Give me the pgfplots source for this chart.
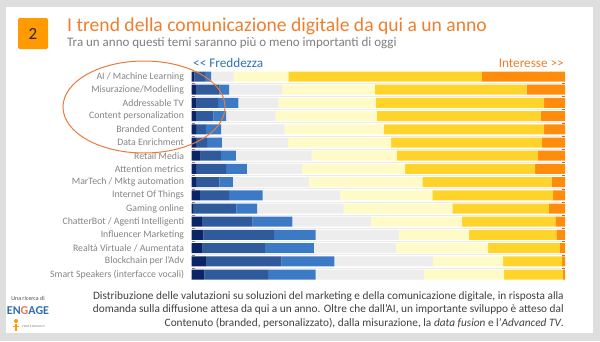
\documentclass[border=0pt]{standalone}
\usepackage{fontspec}
\setmainfont{Carlito}
\usepackage{pgfplots}
\usepackage{pgfplotstable}
\pgfplotsset{compat=1.18}
\definecolor{c1}{HTML}{0B2466}
\definecolor{c2}{HTML}{2F5A9C}
\definecolor{c3}{HTML}{3D7AC6}
\definecolor{c4}{HTML}{EDEDED}
\definecolor{c5}{HTML}{FFFBC8}
\definecolor{c6}{HTML}{FFD42A}
\definecolor{c7}{HTML}{FF8C0A}
\definecolor{bordergray}{HTML}{DEDEDE}
\definecolor{titleor}{HTML}{EE7F2D}
\definecolor{boxor}{HTML}{FF9A00}
\definecolor{subgray}{HTML}{7F7F7F}
\definecolor{labgray}{HTML}{858585}
\definecolor{fredblue}{HTML}{2E75B6}
\definecolor{capgray}{HTML}{404040}
\definecolor{ellor}{HTML}{EB7A3C}
\definecolor{logoblue}{HTML}{2E6DB4}

\pgfplotstableread{
y s1 s2 s3 s4 s5 s6 s7
0 0.7 2.9 1.6 6.0 14.7 51.8 22.3
1 1.3 6.2 2.5 14.2 24.9 40.6 10.3
2 1.3 5.8 5.4 10.7 26.1 45.1 5.6
3 1.1 4.7 3.4 13.3 27.1 43.9 6.5
4 1.2 2.6 4.1 17.0 26.5 43.0 5.6
5 1.2 2.9 4.0 17.8 27.5 40.5 6.1
6 2.4 5.4 4.0 20.3 22.8 37.9 7.2
7 1.2 8.0 5.6 14.7 27.7 34.8 8.0
8 1.2 6.2 3.6 20.4 30.4 34.6 3.6
9 2.2 7.8 9.0 20.7 24.8 32.3 3.2
10 0.4 11.6 5.5 23.2 29.1 25.9 4.3
11 2.7 13.6 10.7 21.0 24.4 25.0 2.6
12 3.1 19.0 11.1 22.3 18.8 23.4 2.3
13 2.9 16.7 13.1 22.0 24.7 19.2 1.4
14 3.8 20.3 14.1 26.4 18.8 15.8 0.8
15 3.4 17.1 12.7 29.0 21.5 15.8 0.5
}\data

\begin{document}
\begin{tikzpicture}
\begin{scope}[x=1pt,y=-1pt]
\fill[bordergray] (0,0) rectangle (600,341);
\useasboundingbox (0,0) rectangle (600,341);
\fill[white] (6,7) rectangle (593,333);
\fill[boxor, rounded corners=2pt] (18,18) rectangle (48,49);
\node[font=\fontsize{17}{20}\selectfont, text=black!85] at (33,33.5) {2};
\node[anchor=base west, inner sep=0pt, text=titleor, font=\fontsize{19.6}{23}\selectfont] at (67,31) {I trend della comunicazione digitale da qui a un anno};
\node[anchor=base west, inner sep=0pt, text=subgray, font=\fontsize{13}{15}\selectfont] at (67,46) {Tra un anno questi temi saranno più o meno importanti di oggi};
\node[anchor=base west, inner sep=0pt, text=fredblue, font=\fontsize{13.2}{15}\selectfont] at (193,67) {{<}{<} Freddezza};
\node[anchor=base east, inner sep=0pt, text=titleor, font=\fontsize{13.2}{15}\selectfont] at (564,67) {Interesse {>}{>}};
\end{scope}

\begin{axis}[
  at={(191.7pt,-69.9pt)}, anchor=north west,
  scale only axis, width=373.3pt, height=211.2pt,
  xbar stacked, bar width=10pt,
  xmin=0, xmax=100, ymin=-0.5, ymax=15.5,
  y dir=reverse, enlargelimits=false,
  axis line style={draw=none},
  xtick=\empty,
  ytick={0,...,15},
  major tick length=0pt,
  minor ytick={0.5,1.5,...,14.5},
  yminorgrids, minor grid style={draw=black!8, line width=0.5pt},
  yticklabels={AI / Machine Learning, Misurazione/Modelling, Addressable TV, Content personalization, Branded Content, Data Enrichment, Retail Media, Attention metrics, MarTech / Mktg automation, Internet Of Things, Gaming online, ChatterBot / Agenti Intelligenti, Influencer Marketing, Realtà Virtuale / Aumentata, Blockchain per l’Adv, Smart Speakers (interfacce vocali)},
  yticklabel style={font=\fontsize{9.8}{12}\selectfont, text=labgray, anchor=east, inner sep=0pt, xshift=-7.5pt},
]
\addplot[fill=c1, draw=none] table[x=s1, y=y] {\data};
\addplot[fill=c2, draw=none] table[x=s2, y=y] {\data};
\addplot[fill=c3, draw=none] table[x=s3, y=y] {\data};
\addplot[fill=c4, draw=none] table[x=s4, y=y] {\data};
\addplot[fill=c5, draw=none] table[x=s5, y=y] {\data};
\addplot[fill=c6, draw=none] table[x=s6, y=y] {\data};
\addplot[fill=c7, draw=none] table[x=s7, y=y] {\data};
\end{axis}

\begin{scope}[x=1pt,y=-1pt]
\draw[ellor, line width=1pt] (144,107) ellipse [x radius=81, y radius=46];
\node[font=\fontsize{6}{7}\selectfont, text=black!70, inner sep=0pt] at (28,298) {Una ricerca di};
\node[font=\fontsize{12}{14}\selectfont\bfseries, text=logoblue, inner sep=0pt] at (28,311) {EN\textcolor{ellor}{G}AGE};
\fill[boxor] (16,321) circle (2pt);
\draw[boxor, line width=1.2pt] (16,324) -- (16,331);
\draw[boxor, line width=0.8pt] (13,326) -- (19,326);
\node[font=\fontsize{3}{4}\selectfont, text=black!50, inner sep=0pt, anchor=west] at (22,327) {PEOPLE RESEARCH};
\node[anchor=north east, align=right, inner sep=0pt, text=capgray, font=\fontsize{11.3}{13.5}\selectfont] at (564,291) {Distribuzione delle valutazioni su soluzioni del marketing e della comunicazione digitale, in risposta alla\\domanda sulla diffusione attesa da qui a un anno. Oltre che dall’AI, un importante sviluppo è atteso dal\\Contenuto (branded, personalizzato), dalla misurazione, la \textit{data fusion} e l’\textit{Advanced TV}.};
\end{scope}
\end{tikzpicture}
\end{document}
